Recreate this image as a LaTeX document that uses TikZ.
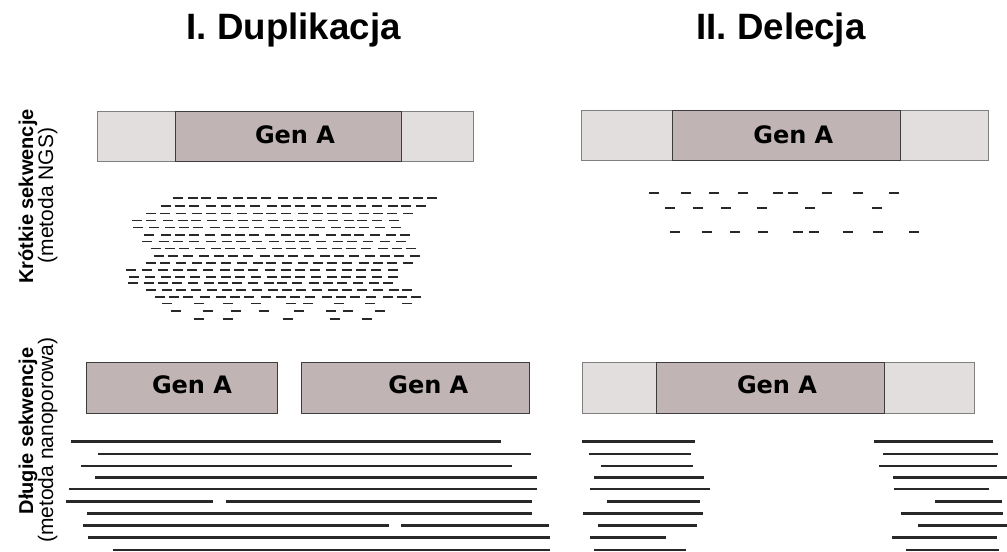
\documentclass[tikz,border=0pt]{standalone}
\usepackage{fontspec}
\setmainfont{Liberation Sans}
\newfontfamily\djv{DejaVu Sans}
\definecolor{flank}{RGB}{226,222,222}
\definecolor{gene}{RGB}{192,180,180}
\definecolor{edgeout}{RGB}{128,128,128}
\definecolor{edgein}{RGB}{60,60,60}
\definecolor{readc}{RGB}{40,40,40}
\begin{document}
\begin{tikzpicture}[x=0.75pt,y=-0.75pt,
 titletext/.style={font=\fontsize{27.5}{30}\selectfont\bfseries, inner sep=0, anchor=base},
 genetext/.style={font=\djv\bfseries\fontsize{18}{20}\selectfont, inner sep=0, anchor=base},
 sidebold/.style={font=\fontsize{15}{16}\selectfont\bfseries, rotate=90, anchor=base, inner sep=0},
 sidereg/.style={font=\fontsize{15.75}{16}\selectfont, rotate=90, anchor=base, inner sep=0},
 flankbox/.style={fill=flank, draw=edgeout, line width=0.75pt},
 genebox/.style={fill=gene, draw=edgein, line width=0.75pt},
 shortread/.style={draw=readc, line width=1.4pt},
 longread/.style={draw=readc, line width=2pt},
]
\useasboundingbox (0,0) rectangle (1007,551);

% titles
\node[titletext] (t1) at (293.7,39) {I. Duplikacja};
\node[titletext] (t2) at (781,39) {II. Delecja};

% side labels
\node[sidebold] (s1a) at (33,196.5) {Krótkie sekwencje};
\node[sidereg]  (s1b) at (53,195.5) {(metoda NGS)};
\node[sidebold] (s2a) at (33,431) {Długie sekwencje};
\node[sidereg]  (s2b) at (53,440) {(metoda nanoporowa)};

% top-left gene region
\draw[flankbox] (97.3,111) rectangle (473.3,161.7);
\draw[genebox] (175,111) rectangle (401.7,161.7);
\node[genetext] (g1) at (295,143.3) {Gen A};

% top-right gene region
\draw[flankbox] (581.7,110) rectangle (988.3,160.7);
\draw[genebox] (672.7,110) rectangle (900.7,160.7);
\node[genetext] (g2) at (793.3,143.3) {Gen A};

% bottom-left duplicated genes
\draw[genebox] (86,362.7) rectangle (277.7,413.3);
\node[genetext] (g3) at (192,393) {Gen A};
\draw[genebox] (301,362.7) rectangle (529,413.3);
\node[genetext] (g4) at (428.3,393) {Gen A};

% bottom-right gene region
\draw[flankbox] (582.3,362.7) rectangle (974.3,413.3);
\draw[genebox] (656.7,362.7) rectangle (884.3,413.3);
\node[genetext] (g5) at (777,393) {Gen A};

% short reads, duplication (dense rows)
\foreach \yy/\xa/\xb [count=\r] in {197.7/172/438, 206.3/160/427, 213.5/146/413,
  220.5/132/398, 227.5/134/400, 234.7/145/410, 241.5/142/405, 248.5/150/417,
  256/153/420, 263/146/413, 270/127/397, 276.7/130/397, 283.3/128/393,
  290/146/413, 297/154/422}{
  \pgfmathtruncatemacro\nn{(\xb-\xa-10)/15}
  \foreach \i in {0,...,\nn}{
    \pgfmathsetmacro\xx{\xa+\i*(\xb-\xa-10)/\nn + 0.9*sin(97*\i+53*\r)}
    \draw[shortread] (\xx,\yy) -- ++(10,0);
  }
}
% sparse rows
\foreach \xx in {162,194,223,251,286,303,334,365,402}{\draw[shortread] (\xx,303.5) -- ++(10,0);}
\foreach \xx in {171,203,231,259,294,326,343,375}{\draw[shortread] (\xx,311) -- ++(10,0);}
\foreach \xx in {194,223,283,330,362}{\draw[shortread] (\xx,319) -- ++(10,0);}

% short reads, deletion
\foreach \xx in {649.3,680.7,709.3,737.7,772.7,788.3,821.7,852.7,889.3}{\draw[shortread] (\xx,193.3) -- ++(10,0);}
\foreach \xx in {665,692.7,721,756.7,805,871.7}{\draw[shortread] (\xx,208.3) -- ++(10,0);}
\foreach \xx in {670,701.7,730,758.3,793.3,809.3,842.7,873.3,909.3}{\draw[shortread] (\xx,231.7) -- ++(10,0);}

% long reads, duplication
\foreach \yy/\xa/\xb in {441.7/70.7/501, 454/98.3/530.7, 466/81/512.3, 477.7/95/536.7,
  489/69/537.3, 501.7/65.7/213.3, 501.7/225.7/531.7, 513.3/87.3/531.7,
  525.3/83.3/389.3, 525.3/401/549, 537.7/87.7/550, 550/113.3/550}{
  \draw[longread] (\xa,\yy) -- (\xb,\yy);
}

% long reads, deletion (left flank)
\foreach \yy/\xa/\xb in {441.7/581.7/695, 454/589/691, 466/600.7/693.3, 477.7/594/704.3,
  489/590/710, 501.7/606.7/700, 513.3/582.7/703.3, 525.3/597.7/696.7,
  537.7/590/666, 550/594.3/685.7}{
  \draw[longread] (\xa,\yy) -- (\xb,\yy);
}
% long reads, deletion (right flank)
\foreach \yy/\xa/\xb in {441.7/874/993.3, 454/883.3/998.3, 466/879/996.7, 477.7/893.3/1007,
  489/894.3/989, 501.7/935.3/1002.3, 513.3/900.7/1003.3, 525.3/918.3/1007,
  537.7/892.3/997, 550/906/999.3}{
  \draw[longread] (\xa,\yy) -- (\xb,\yy);
}
\end{tikzpicture}
\end{document}
